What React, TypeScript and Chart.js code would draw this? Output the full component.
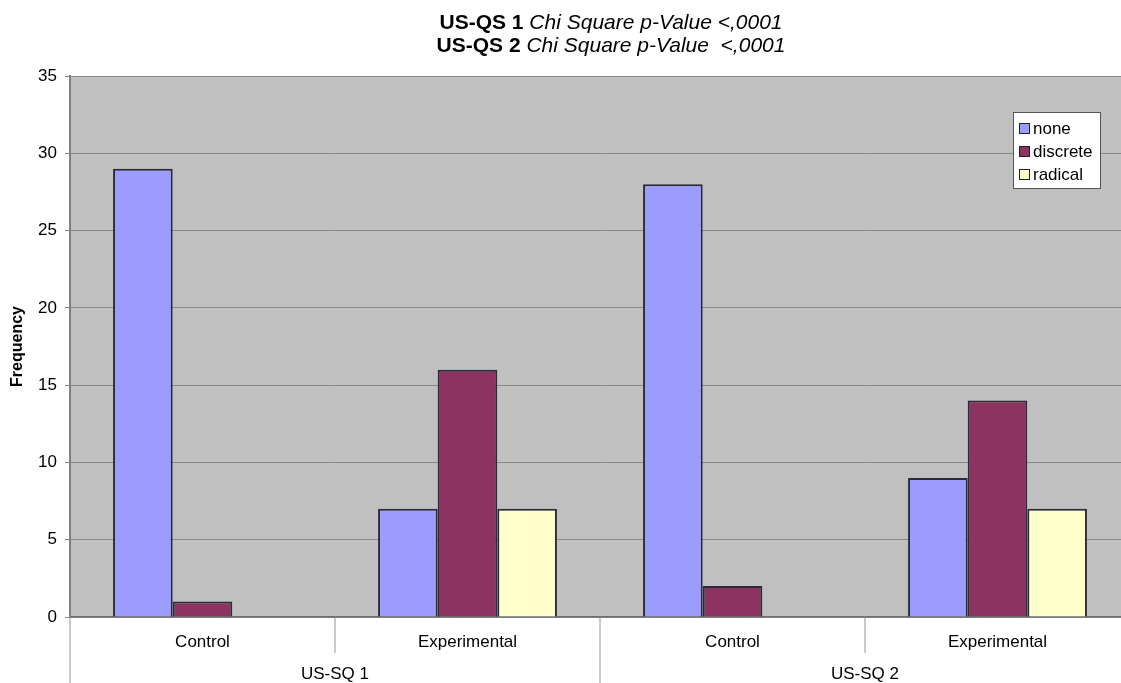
import React, { useEffect, useRef } from 'react';
import { Chart, registerables } from 'chart.js';

Chart.register(...registerables);

const categories = ['Control', 'Experimental', 'Control', 'Experimental'];
const groups = ['US-SQ 1', 'US-SQ 2'];
const seriesNames = ['none', 'discrete', 'radical'];
const noneValues = [29, 7, 28, 9];
const discreteValues = [1, 16, 2, 14];
const radicalValues = [0, 7, 0, 7];
const seriesColors = ['#9c9cff', '#8c345f', '#ffffcc'];
const titleBold = ['US-QS 1', 'US-QS 2'];
const titleItalic = ['Chi Square p-Value <,0001', 'Chi Square p-Value  <,0001'];
const yMin = 0;
const yMax = 35;
const yStep = 5;
const yTitle = 'Frequency';

const FONT = "'Liberation Sans', Arial, Helvetica, sans-serif";

const decor = {
  id: 'decor',
  beforeDraw(chart: any) {
    const { ctx, chartArea: a } = chart;
    ctx.save();
    ctx.fillStyle = '#c0c0c0';
    ctx.fillRect(a.left, a.top, a.right - a.left, a.bottom - a.top);
    ctx.restore();
  },
  afterDraw(chart: any) {
    const ctx = chart.ctx;
    const x = chart.scales.x;
    const a = chart.chartArea;
    const n = categories.length;
    const w = (x.right - x.left) / n;
    ctx.save();
    // category / group separators below axis
    ctx.strokeStyle = '#b8b8b8';
    ctx.lineWidth = 1.5;
    for (let i = 0; i <= n; i++) {
      const px = Math.round(x.left + i * w);
      const groupEdge = i % 2 === 0;
      ctx.beginPath();
      ctx.moveTo(px, a.bottom + 1);
      ctx.lineTo(px, groupEdge ? chart.height : a.bottom + 36);
      ctx.stroke();
    }
    // group labels
    ctx.fillStyle = '#000';
    ctx.font = `17px ${FONT}`;
    ctx.textAlign = 'center';
    ctx.textBaseline = 'middle';
    groups.forEach((g, gi) => {
      const cx = x.left + (gi * 2 + 1) * w;
      ctx.fillText(g, cx, a.bottom + 57);
    });
    // title
    ctx.textAlign = 'left';
    const titleCenter = 611;
    const lineYs = [23, 46.5];
    titleBold.forEach((b, i) => {
      ctx.font = `bold 21px ${FONT}`;
      const bw = ctx.measureText(b).width;
      ctx.font = `italic 21px ${FONT}`;
      const it = ' ' + titleItalic[i];
      const iw = ctx.measureText(it).width;
      const sx = titleCenter - (bw + iw) / 2;
      ctx.font = `bold 21px ${FONT}`;
      ctx.fillText(b, sx, lineYs[i]);
      ctx.font = `italic 21px ${FONT}`;
      ctx.fillText(it, sx + bw, lineYs[i]);
    });
    // legend
    const lx = 1013, ly = 112, lw = 87, lh = 76;
    ctx.fillStyle = '#ffffff';
    ctx.fillRect(lx, ly, lw, lh);
    ctx.strokeStyle = '#555555';
    ctx.lineWidth = 1;
    ctx.strokeRect(lx + 0.5, ly + 0.5, lw, lh);
    ctx.font = `17px ${FONT}`;
    chart.data.datasets.forEach((ds: any, i: number) => {
      const cy = ly + 16 + i * 23;
      ctx.fillStyle = ds.backgroundColor;
      ctx.fillRect(lx + 6, cy - 5, 10, 10);
      ctx.strokeStyle = '#222';
      ctx.strokeRect(lx + 6.5, cy - 4.5, 10, 10);
      ctx.fillStyle = '#000';
      ctx.fillText(ds.label, lx + 20, cy + 1);
    });
    ctx.restore();
  },
};

export default function App() {
  const ref = useRef<HTMLCanvasElement>(null);
  useEffect(() => {
    if (!ref.current) return;
    Chart.defaults.font.family = FONT;
    const values = [noneValues, discreteValues, radicalValues];
    const chart = new Chart(ref.current, {
      type: 'bar',
      data: {
        labels: categories,
        datasets: seriesNames.map((name, i) => ({
          label: name,
          data: values[i],
          backgroundColor: seriesColors[i],
          borderColor: '#2a2a38',
          borderWidth: 2,
          categoryPercentage: 0.675,
          barPercentage: 1,
        })),
      },
      options: {
        animation: false,
        responsive: true,
        maintainAspectRatio: false,
        layout: { padding: { top: 76, right: 0, bottom: 0, left: 0 } },
        plugins: {
          legend: { display: false },
          title: { display: false },
          tooltip: { enabled: false },
        },
        scales: {
          x: {
            offset: true,
            grid: { display: false, drawTicks: false },
            border: { color: '#707070', width: 1.5 },
            ticks: {
              color: '#000',
              font: { size: 17 },
              padding: 15,
              maxRotation: 0,
              autoSkip: false,
            },
            afterFit(scale: any) {
              scale.height = 66;
            },
          },
          y: {
            min: yMin,
            max: yMax,
            ticks: {
              stepSize: yStep,
              color: '#000',
              font: { size: 17 },
              padding: 8,
            },
            grid: { color: '#888888', lineWidth: 1, tickLength: 5 },
            border: { color: '#808080', width: 2 },
            title: {
              display: true,
              text: yTitle,
              color: '#000',
              font: { size: 16, weight: 'bold' },
              padding: { top: 8, bottom: 0 },
            },
            afterFit(scale: any) {
              scale.width = 70;
            },
          },
        },
      },
      plugins: [decor],
    });
    return () => chart.destroy();
  }, []);
  return (
    <div
      style={{
        position: 'fixed',
        left: 0,
        top: 0,
        width: 1121,
        height: 683,
        overflow: 'hidden',
        background: '#fff',
      }}
    >
      <div style={{ position: 'relative', width: 1130, height: 683 }}>
        <canvas ref={ref} />
      </div>
    </div>
  );
}
